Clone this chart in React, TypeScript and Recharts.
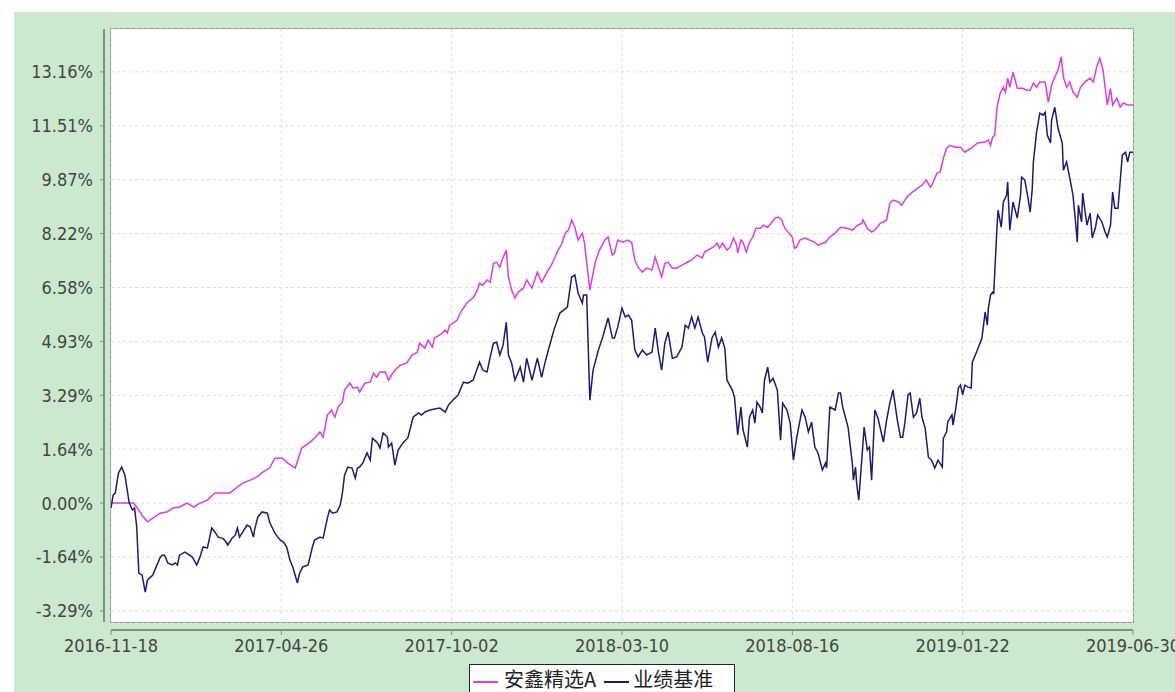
import { LineChart, Line, XAxis, YAxis, CartesianGrid } from "recharts";

// days since 2016-11-18
const xTickDays = [0, 159, 318, 477, 636, 795, 954];
const xTickLabels = ["2016-11-18", "2017-04-26", "2017-10-02", "2018-03-10", "2018-08-16", "2019-01-22", "2019-06-30"];

const yTicks = [-3.29, -1.645, 0, 1.645, 3.29, 4.935, 6.58, 8.225, 9.87, 11.515, 13.16];
const yTickLabels = ["-3.29%", "-1.64%", "0.00%", "1.64%", "3.29%", "4.93%", "6.58%", "8.22%", "9.87%", "11.51%", "13.16%"];

const seriesNames = ["安鑫精选A", "业绩基准"];

const fundDays = [
  1, 21, 24, 29, 34, 39, 46, 52, 58, 64, 71, 77, 83, 90, 97, 111, 118, 123, 130, 136, 142, 148, 153, 160, 165, 172,
  178, 186, 190, 195, 198, 202, 206, 209, 212, 216, 218, 223, 226, 230, 232, 237, 242, 245, 248, 251, 256, 259, 263,
  267, 270, 276, 281, 286, 288, 293, 296, 300, 302, 307, 312, 314, 316, 323, 326, 329, 332, 335, 338, 342, 344, 347,
  351, 354, 357, 360, 363, 365, 369, 371, 374, 377, 380, 385, 388, 393, 398, 402, 407, 412, 416, 421, 424, 427, 430,
  433, 436, 440, 442, 447, 452, 456, 461, 464, 468, 470, 473, 478, 482, 486, 489, 492, 496, 500, 505, 508, 511, 514,
  517, 520, 524, 528, 533, 538, 542, 547, 552, 554, 557, 562, 566, 568, 571, 575, 578, 581, 584, 585, 588, 590, 593,
  596, 599, 602, 606, 609, 613, 617, 620, 623, 626, 629, 632, 636, 638, 640, 643, 648, 652, 657, 660, 664, 667, 671,
  676, 681, 687, 692, 695, 697, 701, 702, 706, 710, 713, 718, 721, 724, 727, 730, 735, 738, 743, 748, 753, 757, 761,
  765, 767, 771, 774, 777, 780, 783, 788, 793, 797, 804, 809, 816, 819, 821, 823, 825, 827, 830, 833, 835, 837, 839,
  842, 846, 849, 851, 855, 858, 861, 864, 867, 872, 875, 878, 881, 884, 887, 889, 892, 895, 898, 902, 905, 909, 914,
  917, 920, 923, 926, 930, 933, 935, 939, 942, 945, 949, 954,
];
const fundValues = [
  0, 0, -0.12, -0.37, -0.58, -0.46, -0.31, -0.27, -0.15, -0.12, 0.0, -0.12, 0.0, 0.09, 0.31, 0.31, 0.49, 0.61, 0.7,
  0.79, 0.95, 1.07, 1.37, 1.37, 1.22, 1.07, 1.68, 1.86, 1.98, 2.17, 2.01, 2.69, 2.84, 2.62, 2.93, 3.08, 3.45, 3.66,
  3.51, 3.54, 3.39, 3.66, 3.69, 3.97, 3.84, 4.0, 4.0, 3.75, 3.97, 4.12, 4.21, 4.27, 4.52, 4.61, 4.88, 4.73, 4.97, 4.76,
  5.04, 5.13, 5.28, 5.19, 5.43, 5.58, 5.8, 5.95, 6.1, 6.19, 6.26, 6.5, 6.71, 6.65, 6.81, 6.74, 7.32, 7.35, 7.2, 7.42,
  7.72, 6.9, 6.5, 6.26, 6.44, 6.56, 6.81, 6.56, 7.05, 6.74, 7.05, 7.32, 7.63, 7.93, 8.24, 8.33, 8.64, 8.42, 8.03, 8.24,
  7.93, 6.5, 7.35, 7.72, 8.03, 8.12, 7.57, 7.63, 8.03, 7.96, 8.03, 7.96, 7.42, 7.2, 7.05, 7.17, 7.11, 7.51, 7.2, 6.9,
  7.32, 7.35, 7.17, 7.17, 7.26, 7.35, 7.42, 7.57, 7.48, 7.66, 7.72, 7.81, 7.93, 7.78, 7.93, 7.72, 7.81, 8.09, 7.87,
  7.63, 8.03, 7.96, 7.66, 7.96, 8.12, 8.39, 8.39, 8.48, 8.42, 8.58, 8.7, 8.73, 8.64, 8.39, 8.27, 8.12, 7.78, 7.81, 8.03,
  8.09, 8.03, 7.96, 7.87, 7.93, 7.96, 8.12, 8.24, 8.42, 8.39, 8.33, 8.42, 8.48, 8.54, 8.64, 8.39, 8.27, 8.33, 8.54,
  8.58, 8.64, 9.15, 9.25, 9.19, 9.09, 9.34, 9.49, 9.61, 9.7, 9.86, 9.64, 9.76, 10.07, 10.1, 10.53, 10.83, 10.92, 10.86,
  10.86, 10.71, 10.86, 10.99, 11.02, 11.08, 10.92, 11.17, 11.23, 12.08, 12.51, 12.69, 12.54, 12.97, 12.69, 13.15,
  12.66, 12.66, 12.66, 12.6, 12.6, 12.82, 12.69, 12.85, 12.85, 12.24, 12.76, 13.0, 13.22, 13.62, 13.0, 12.69, 12.85,
  12.54, 12.39, 12.69, 12.85, 12.97, 12.85, 13.3, 13.58, 13.22, 12.15, 12.66, 12.15, 12.36, 12.08, 12.21, 12.15, 12.15,
];

const benchDays = [
  0, 2, 4, 7, 10, 13, 17, 20, 22, 24, 26, 29, 32, 34, 36, 39, 41, 46, 48, 50, 53, 57, 60, 62, 64, 69, 76, 80, 83, 86,
  90, 94, 97, 100, 104, 106, 109, 113, 116, 118, 120, 123, 127, 130, 133, 134, 137, 141, 146, 148, 153, 158, 161, 164,
  167, 170, 174, 176, 179, 184, 188, 190, 195, 198, 202, 204, 207, 211, 214, 216, 218, 221, 225, 228, 230, 232, 235,
  239, 242, 244, 246, 249, 251, 254, 258, 259, 262, 265, 268, 273, 277, 279, 282, 287, 290, 293, 298, 302, 307, 312,
  315, 319, 324, 329, 333, 338, 342, 344, 347, 351, 354, 357, 360, 363, 366, 369, 371, 374, 377, 382, 385, 388, 393,
  398, 402, 405, 410, 414, 419, 426, 430, 433, 436, 440, 441, 444, 447, 450, 455, 459, 464, 468, 470, 473, 477, 480,
  483, 486, 489, 492, 496, 500, 505, 508, 511, 514, 517, 520, 524, 528, 533, 536, 539, 542, 545, 548, 552, 554, 557,
  561, 564, 567, 570, 573, 575, 580, 582, 585, 588, 590, 594, 596, 599, 601, 603, 606, 608, 610, 613, 615, 618, 622,
  625, 627, 631, 634, 637, 640, 645, 648, 651, 654, 657, 660, 664, 667, 668, 671, 676, 679, 681, 683, 688, 692, 693,
  695, 696, 698, 701, 703, 706, 708, 710, 713, 716, 721, 724, 727, 730, 734, 737, 739, 741, 744, 746, 749, 752, 755,
  757, 760, 763, 766, 769, 772, 776, 777, 780, 781, 785, 786, 789, 791, 793, 795, 797, 800, 803, 804, 808, 813, 816,
  818, 819, 821, 823, 824, 827, 828, 831, 833, 836, 837, 839, 842, 846, 849, 850, 853, 856, 858, 860, 861, 864, 867,
  870, 872, 874, 877, 878, 881, 884, 888, 889, 892, 895, 898, 900, 902, 903, 906, 907, 911, 914, 916, 919, 921, 925,
  928, 930, 933, 935, 937, 940, 944, 947, 949, 951, 954,
];
const benchValues = [
  -0.15, 0.24, 0.31, 0.92, 1.1, 0.85, 0.0, -0.21, -0.15, -0.73, -2.14, -2.2, -2.72, -2.35, -2.29, -2.2, -2.04, -1.65,
  -1.59, -1.59, -1.83, -1.89, -1.83, -1.89, -1.59, -1.5, -1.65, -1.89, -1.65, -1.34, -1.37, -0.76, -0.88, -1.04, -1.07,
  -1.13, -1.28, -1.07, -0.98, -0.76, -1.04, -0.88, -0.67, -0.73, -1.04, -0.82, -0.43, -0.27, -0.31, -0.58, -0.92,
  -1.13, -1.19, -1.34, -1.74, -1.98, -2.44, -2.14, -1.95, -1.89, -1.34, -1.13, -1.04, -1.07, -0.46, -0.21, -0.31,
  -0.27, -0.06, 0.31, 0.85, 1.1, 1.07, 0.76, 1.07, 1.1, 1.22, 1.53, 1.31, 1.98, 1.92, 1.83, 1.68, 2.14, 2.01, 1.71,
  1.83, 1.16, 1.62, 1.86, 1.98, 2.23, 2.62, 2.75, 2.69, 2.78, 2.84, 2.87, 2.9, 2.78, 2.99, 3.14, 3.3, 3.69, 3.66, 3.75,
  4.12, 4.3, 4.06, 4.0, 4.46, 4.88, 4.91, 4.52, 4.82, 5.52, 4.52, 4.27, 3.75, 4.15, 3.69, 4.42, 3.75, 4.42, 3.84, 4.27,
  4.88, 5.34, 5.8, 5.98, 6.9, 6.96, 6.41, 6.1, 6.35, 6.35, 3.14, 4.06, 4.67, 5.07, 5.65, 5.04, 5.04, 5.37, 5.95, 5.68,
  5.74, 5.58, 4.67, 4.46, 4.67, 4.52, 4.61, 5.34, 4.61, 4.06, 4.88, 5.22, 4.42, 4.46, 4.76, 5.43, 5.34, 5.68, 5.34,
  5.68, 5.19, 5.07, 4.3, 5.04, 5.22, 4.76, 5.04, 4.73, 3.75, 3.45, 3.23, 2.08, 2.93, 2.23, 1.71, 2.62, 2.84, 2.44,
  3.08, 2.93, 2.75, 3.75, 4.15, 3.69, 3.81, 3.45, 1.92, 3.05, 2.84, 2.44, 1.31, 1.98, 2.84, 2.62, 2.17, 2.47, 1.71,
  1.53, 1.01, 1.22, 1.07, 2.93, 2.84, 3.36, 3.36, 2.93, 2.32, 1.22, 0.7, 1.1, 0.61, 0.09, 1.4, 2.32, 1.62, 1.71, 0.7,
  2.84, 2.59, 1.86, 2.53, 3.05, 3.45, 2.53, 2.01, 2.01, 2.44, 3.3, 3.36, 2.62, 2.75, 3.2, 2.62, 2.29, 1.4, 1.31, 1.07,
  1.31, 1.1, 1.98, 2.17, 2.47, 2.69, 2.38, 2.99, 3.51, 3.6, 3.3, 3.6, 3.54, 3.51, 4.3, 4.61, 5.04, 5.83, 5.43, 5.95,
  6.35, 6.44, 6.41, 8.39, 8.94, 8.42, 9.19, 9.4, 9.8, 8.33, 9.19, 8.7, 9.4, 9.95, 9.86, 9.31, 8.88, 9.61, 10.41, 11.32,
  11.9, 11.84, 11.93, 11.23, 10.99, 11.69, 12.08, 11.44, 10.99, 10.16, 10.41, 9.92, 9.4, 8.7, 7.96, 9.09, 8.58, 9.46,
  8.48, 8.85, 8.09, 8.42, 8.79, 8.58, 8.27, 8.12, 8.48, 9.49, 9.0, 9.0, 10.62, 10.71, 10.41, 10.71, 10.71,
];

const fundData = fundDays.map((d, i) => ({ d, v: fundValues[i] }));
const benchData = benchDays.map((d, i) => ({ d, v: benchValues[i] }));

const FUND_COLOR = "#dc3ce0";
const BENCH_COLOR = "#1c1c6e";
const AXIS_COLOR = "#7f927f";
const TEXT_COLOR = "#404640";
const FONT = '"DejaVu Sans Condensed", "DejaVu Sans", sans-serif';

// eslint-disable-next-line @typescript-eslint/no-explicit-any
function YTick({ y, index }: any) {
  return (
    <g>
      <line x1={100} x2={104} y1={y} y2={y} stroke={AXIS_COLOR} strokeWidth={1} />
      <text x={93} y={y} dy="0.36em" textAnchor="end" fill={TEXT_COLOR} fontSize={18} fontFamily={FONT}>
        {yTickLabels[index]}
      </text>
    </g>
  );
}

// eslint-disable-next-line @typescript-eslint/no-explicit-any
function XTick({ x, index }: any) {
  return (
    <g>
      <line x1={x} x2={x} y1={630} y2={635} stroke={AXIS_COLOR} strokeWidth={1} />
      <text x={x} y={652} textAnchor="middle" fill={TEXT_COLOR} fontSize={18} fontFamily={FONT}>
        {xTickLabels[index]}
      </text>
    </g>
  );
}

export default function App() {
  return (
    <div
      style={{
        position: "absolute",
        left: 0,
        top: 0,
        width: 1175,
        height: 692,
        background: "#fff",
        overflow: "hidden",
      }}
    >
      {/* green panel */}
      <div style={{ position: "absolute", left: 14, top: 12, width: 1161, height: 680, background: "#cce8cf" }} />
      {/* plot background + border */}
      <div
        style={{
          position: "absolute",
          left: 110,
          top: 28,
          width: 1022,
          height: 593,
          background: "#fff",
          border: "1.5px solid #8a9a8a",
        }}
      />
      {/* detached axis lines */}
      <div style={{ position: "absolute", left: 103, top: 29, width: 2, height: 593, background: AXIS_COLOR }} />
      <div style={{ position: "absolute", left: 111, top: 629, width: 1022, height: 2, background: AXIS_COLOR }} />

      <div style={{ position: "absolute", left: 0, top: 0 }}>
        <LineChart width={1175} height={692} margin={{ top: 29, right: 42, bottom: 40, left: 14 }}>
          <CartesianGrid stroke="#dcdcdc" strokeDasharray="3 3" />
          <XAxis
            dataKey="d"
            type="number"
            domain={[0, 954]}
            ticks={xTickDays}
            allowDataOverflow
            axisLine={false}
            tickLine={false}
            height={30}
            tick={<XTick />}
            interval={0}
          />
          <YAxis
            type="number"
            domain={[-3.63, 14.47]}
            ticks={yTicks}
            allowDataOverflow
            axisLine={false}
            tickLine={false}
            width={97}
            tick={<YTick />}
            interval={0}
          />
          <Line
            data={fundData}
            dataKey="v"
            type="linear"
            stroke={FUND_COLOR}
            strokeWidth={1.5}
            dot={false}
            isAnimationActive={false}
          />
          <Line
            data={benchData}
            dataKey="v"
            type="linear"
            stroke={BENCH_COLOR}
            strokeWidth={1.5}
            dot={false}
            isAnimationActive={false}
          />
        </LineChart>
      </div>

      {/* legend */}
      <div
        style={{
          position: "absolute",
          left: 469,
          top: 664,
          width: 264,
          height: 34,
          background: "#fff",
          border: "1px solid #222",
          display: "flex",
          alignItems: "flex-start",
          fontFamily: '"Noto Sans CJK SC", sans-serif',
          fontSize: 20,
          color: "#222",
          lineHeight: "28px",
        }}
      >
        <span style={{ display: "inline-block", width: 25, height: 2, background: FUND_COLOR, marginLeft: 3, marginTop: 16 }} />
        <span style={{ marginLeft: 6 }}>{seriesNames[0]}</span>
        <span style={{ display: "inline-block", width: 25, height: 2, background: BENCH_COLOR, marginLeft: 8, marginTop: 16 }} />
        <span style={{ marginLeft: 4 }}>{seriesNames[1]}</span>
      </div>
    </div>
  );
}
